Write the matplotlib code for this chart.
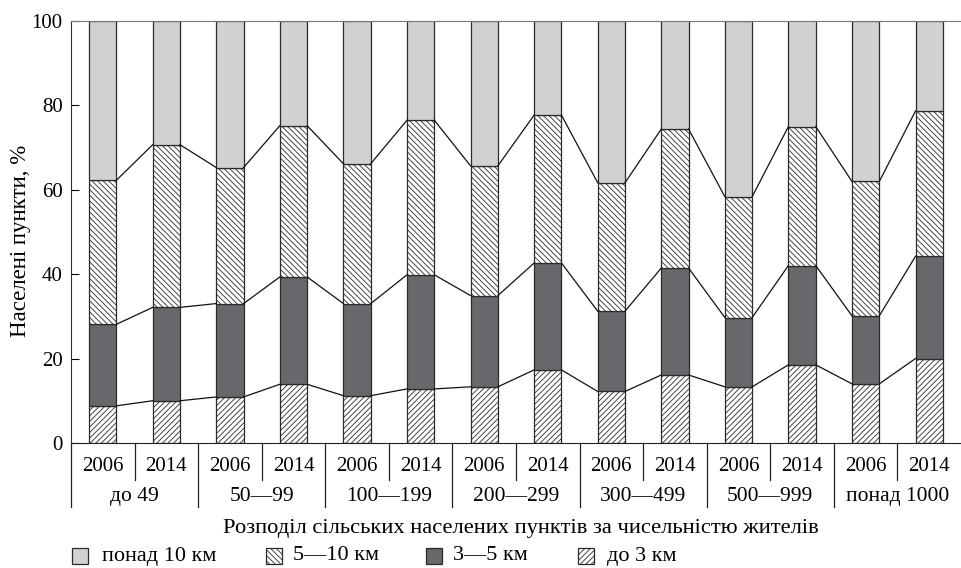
import matplotlib
matplotlib.use("Agg")
import matplotlib.pyplot as plt
import matplotlib.patches as patches
import numpy as np

plt.rcParams['font.family'] = ['Liberation Serif', 'DejaVu Serif']
plt.rcParams['hatch.linewidth'] = 0.6

groups = ['до 49', '50—99', '100—199', '200—299', '300—499', '500—999', 'понад 1000']
years = ['2006', '2014']
series = ['понад 10 км', '5—10 км', '3—5 км', 'до 3 км']

# shares, %, one value per bar (2006, 2014 for each group)
up_to_3 = [8.8, 10.0, 10.9, 13.9, 11.2, 12.8, 13.3, 17.3, 12.2, 16.1, 13.3, 18.5, 14.0, 20.0]
km_3_5 = [19.3, 22.1, 22.1, 25.4, 21.8, 27.0, 21.6, 25.3, 19.0, 25.3, 16.4, 23.5, 16.1, 24.2]
km_5_10 = [34.1, 38.5, 32.2, 35.8, 33.1, 36.6, 30.7, 35.0, 30.4, 32.9, 28.6, 32.9, 31.8, 34.4]
over_10 = [37.8, 29.4, 34.8, 24.9, 33.9, 23.6, 34.4, 22.4, 38.4, 25.7, 41.7, 25.1, 38.1, 21.4]

light = '#d0d1d3'
dark = '#67686b'
edge = '#2a2a2a'
width = 0.43

fig = plt.figure(figsize=(9.61, 5.68), dpi=100)
ax = fig.add_axes([71/961, 1-443/568, 1-71/961, (443-20.5)/568])

x = np.arange(len(up_to_3))
b1 = np.array(up_to_3)
b2 = b1 + np.array(km_3_5)
b3 = b2 + np.array(km_5_10)

ax.bar(x, up_to_3, width, color='white', edgecolor=edge, hatch='//////', lw=0.9)
ax.bar(x, km_3_5, width, bottom=b1, color=dark, edgecolor=edge, lw=0.9)
ax.bar(x, km_5_10, width, bottom=b2, color='white', edgecolor=edge, hatch='\\\\\\\\\\\\', lw=0.9)
ax.bar(x, over_10, width, bottom=b3, color=light, edgecolor=edge, lw=0.9)

# connecting lines between neighbouring bars
for lvl in (b1, b2, b3):
    for i in range(len(x) - 1):
        ax.plot([x[i] + width/2, x[i+1] - width/2], [lvl[i], lvl[i+1]],
                color='#111111', lw=0.9, zorder=3)

ax.set_xlim(-0.5, len(x) - 0.5)
ax.set_ylim(0, 100)
ax.set_yticks(range(0, 101, 20))
ax.tick_params(axis='y', direction='in', length=6, pad=6, labelsize=15)
ax.set_xticks([])
ax.spines['right'].set_visible(False)
ax.spines['top'].set_color('#777777')
ax.spines['left'].set_color('#333333')
ax.spines['bottom'].set_color('#222222')

# two-level category axis
trans = ax.get_xaxis_transform()
for i in range(len(x)):
    ax.text(x[i], -0.056, years[i % 2], transform=trans, ha='center', va='center', fontsize=15)
for g, name in enumerate(groups):
    ax.text(2*g + 0.5, -0.127, name, transform=trans, ha='center', va='center', fontsize=15.5)
    ax.plot([2*g - 0.5, 2*g - 0.5], [0, -0.151], transform=trans, color='#222222',
            lw=0.9, clip_on=False)
    ax.plot([2*g + 0.5, 2*g + 0.5], [0, -0.0876], transform=trans, color='#222222',
            lw=0.9, clip_on=False)

fig.text(0.542, 1-528/568, 'Розподіл сільських населених пунктів за чисельністю жителів',
         ha='center', va='center', fontsize=16.2)
fig.text(21/961, 1-241/568, 'Населені пункти, %', rotation=90, ha='center', va='center',
         fontsize=16.5)

# legend: coloured squares followed by text, placed in figure pixels
faces = [light, 'white', dark, 'white']
hatches = [None, '\\\\\\\\\\\\', None, '//////']
box_x = [72, 266, 426, 578]
text_x = [102, 293, 453, 607]
ly = 556
for fc, h, bx, tx, label in zip(faces, hatches, box_x, text_x, series):
    fig.patches.append(patches.Rectangle((bx/961, 1-(ly+8)/568), 16/961, 16/568,
                                         transform=fig.transFigure, facecolor=fc,
                                         edgecolor=edge, hatch=h, lw=0.9))
    fig.text(tx/961, 1-ly/568, label, ha='left', va='center', fontsize=16)

fig.savefig('out.png', dpi=100)
